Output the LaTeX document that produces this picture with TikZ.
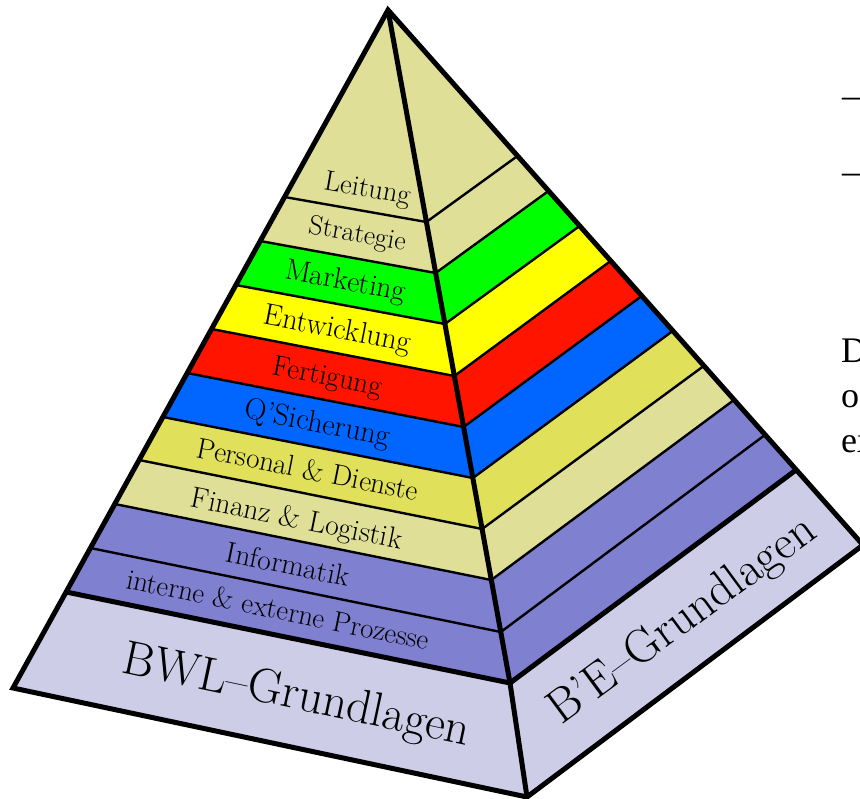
\documentclass[tikz,border=0pt]{standalone}
\usepackage{fontspec}
\newfontfamily\pagefont{Liberation Serif}
\definecolor{cbeige}{RGB}{224,223,152}
\definecolor{cgreen}{RGB}{0,255,0}
\definecolor{cyellow}{RGB}{255,255,0}
\definecolor{cred}{RGB}{255,20,0}
\definecolor{cblue}{RGB}{0,102,255}
\definecolor{colive}{RGB}{225,224,90}
\definecolor{cpurple}{RGB}{128,128,208}
\definecolor{clav}{RGB}{205,205,232}
\begin{document}
\begin{tikzpicture}[x=1pt,y=-1pt,
  thinrule/.style={line width=2.4pt,black},
  thickrule/.style={line width=5pt,black,line join=miter},
  lbl/.style={anchor=base,inner sep=0pt,font=\fontsize{#1}{#1}\selectfont},
  pagetxt/.style={anchor=base west,inner sep=0pt,font=\pagefont\fontsize{36}{45}\selectfont}]
\useasboundingbox (0,0) rectangle (860,799);
\clip (0,0) rectangle (860,799);

% apex and corners of the base slab
\coordinate (A) at (388,10);
\coordinate (BL) at (13,688);
\coordinate (BF) at (527,797);
\coordinate (BR) at (863,545);

% layer boundaries: left edge, front ridge, right edge
\coordinate (L0) at (284.6,197); \coordinate (M0) at (426.4,222); \coordinate (R0) at (517.5,156);
\coordinate (L1) at (260.2,241); \coordinate (M1) at (435.7,273); \coordinate (R1) at (548.5,191);
\coordinate (L2) at (235.9,285); \coordinate (M2) at (444.9,324); \coordinate (R2) at (579.6,226);
\coordinate (L3) at (211.6,329); \coordinate (M3) at (454.4,376); \coordinate (R3) at (610.6,261);
\coordinate (L4) at (187.2,373); \coordinate (M4) at (463.6,427); \coordinate (R4) at (641.7,296);
\coordinate (L5) at (162.9,417); \coordinate (M5) at (472.9,478); \coordinate (R5) at (672.7,331);
\coordinate (L6) at (139.1,460); \coordinate (M6) at (482.1,529); \coordinate (R6) at (703.7,366);
\coordinate (L7) at (114.8,504); \coordinate (M7) at (491.3,580); \coordinate (R7) at (733.9,400);
\coordinate (L8) at (90.4,548);  \coordinate (M8) at (500.8,632); \coordinate (R8) at (764.9,435);
\coordinate (L9) at (66.1,592);  \coordinate (M9) at (510,683);   \coordinate (R9) at (796,470);

% coloured layers
\fill[cbeige] (A) -- (L0) -- (M0) -- (R0) -- cycle;
\foreach \i/\j/\c in {0/1/cbeige,1/2/cgreen,2/3/cyellow,3/4/cred,4/5/cblue,
                      5/6/colive,6/7/cbeige,7/8/cpurple,8/9/cpurple}
  \fill[\c] (L\i) -- (L\j) -- (M\j) -- (R\j) -- (R\i) -- (M\i) -- cycle;
\fill[clav] (L9) -- (BL) -- (BF) -- (BR) -- (R9) -- (M9) -- cycle;

% layer borders
\foreach \i in {0,...,8}
  \draw[thinrule] (L\i) -- (M\i) -- (R\i);
\draw[thickrule] (L9) -- (M9) -- (R9);
\draw[thickrule] (A) -- (M9) -- (BF);
\draw[thickrule] (A) -- (BL) -- (BF) -- (BR) -- cycle;

% layer labels
\node[lbl=28.4,rotate=-10]   (leitung)   at (366,197) {Leitung};
\node[lbl=27.6,rotate=-10]   (strategie) at (356,242) {Strategie};
\node[lbl=29.7,rotate=-10.5] (marketing) at (344,290) {Marketing};
\node[lbl=30.2,rotate=-11]   (entw)      at (336,338) {Entwicklung};
\node[lbl=28.9,rotate=-11]   (fert)      at (326,385) {Fertigung};
\node[lbl=30.3,rotate=-11]   (qs)        at (316,432) {Q'Sicherung};
\node[lbl=29.1,rotate=-11.3] (personal)  at (306,479) {Personal \& Dienste};
\node[lbl=29.6,rotate=-11.4] (finanz)    at (295,528) {Finanz \& Logistik};
\node[lbl=29.4,rotate=-11.5] (info)      at (286,574) {Informatik};
\node[lbl=28.8,rotate=-11.6] (prozesse)  at (276,619) {interne \& externe Prozesse};
\node[lbl=48.2,rotate=-12]   (bwl)       at (294,709) {BWL--Grundlagen};
\node[lbl=47.8,rotate=36.4]  (be)        at (690,631) {B'E--Grundlagen};

% text of the neighbouring page column
\node[pagetxt] (dash1) at (842,108) {–};
\node[pagetxt] (dash2) at (842,184) {–};
\node[pagetxt] (line1) at (841,363) {D};
\node[pagetxt] (line2) at (841,408) {o};
\node[pagetxt] (line3) at (841,453) {ex};
\end{tikzpicture}
\end{document}
